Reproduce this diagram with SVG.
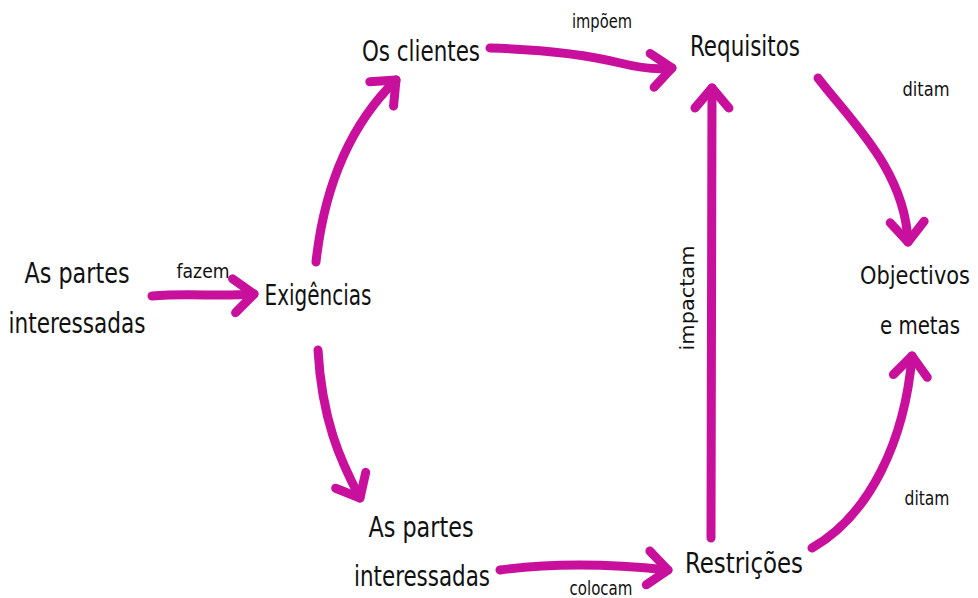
<svg xmlns="http://www.w3.org/2000/svg" width="978" height="598" viewBox="0 0 978 598">
<style>
.n{font-family:"DejaVu Sans Condensed","Liberation Sans",sans-serif;font-size:28px;fill:#111;text-anchor:middle}
.s{font-size:25px}
.l{font-family:"DejaVu Sans Condensed","Liberation Sans",sans-serif;font-size:19px;fill:#111;text-anchor:middle}
.c{fill:none;stroke:#C8109C;stroke-width:9;stroke-linecap:round;stroke-linejoin:round}
</style>
<defs>
<marker id="ah" markerUnits="userSpaceOnUse" viewBox="-40 -40 80 80" markerWidth="80" markerHeight="80" refX="0" refY="0" orient="auto" overflow="visible">
<path d="M-20,-17 L0,0 L-20,17" fill="none" stroke="#C8109C" stroke-width="9" stroke-linecap="round" stroke-linejoin="round"/>
</marker>
</defs>
<rect width="978" height="598" fill="#fff"/>
<g id="connectors">
<path class="c" marker-end="url(#ah)" d="M152,296 C190,293 220,297 254,294"/>
<path class="c" marker-end="url(#ah)" d="M316,262 C325,180 355,120 396,80"/>
<path class="c" marker-end="url(#ah)" d="M318,350 C322,420 340,460 360,498"/>
<path class="c" marker-end="url(#ah)" d="M490,48 C560,50 600,58 620,63 C640,68 655,70 672,68"/>
<path class="c" marker-end="url(#ah)" d="M500,570 C560,562 620,565 668,570"/>
<path class="c" marker-end="url(#ah)" d="M711,538 L712,88"/>
<path class="c" marker-end="url(#ah)" d="M818,78 C850,120 905,170 908,242"/>
<path class="c" marker-end="url(#ah)" d="M812,548 C870,515 905,440 912,356"/>
<text class="l" x="203" y="278" textLength="53" lengthAdjust="spacingAndGlyphs">fazem</text>
<text class="l" x="602" y="28" textLength="60" lengthAdjust="spacingAndGlyphs">impõem</text>
<text class="l" x="926" y="96" textLength="47" lengthAdjust="spacingAndGlyphs">ditam</text>
<text class="l" x="927" y="505" textLength="45" lengthAdjust="spacingAndGlyphs">ditam</text>
<text class="l" x="601" y="595" textLength="63" lengthAdjust="spacingAndGlyphs">colocam</text>
<text class="l" transform="translate(694,298) rotate(-90)" textLength="105" lengthAdjust="spacingAndGlyphs">impactam</text>
</g>
<g id="stakeholders1"><text class="n" x="77" y="283" textLength="105" lengthAdjust="spacingAndGlyphs">As partes</text><text class="n" x="77" y="333" textLength="137" lengthAdjust="spacingAndGlyphs">interessadas</text></g>
<g id="exigencias"><text class="n" x="318" y="305" textLength="107" lengthAdjust="spacingAndGlyphs">Exigências</text></g>
<g id="clientes"><text class="n" x="421" y="61" textLength="118" lengthAdjust="spacingAndGlyphs">Os clientes</text></g>
<g id="requisitos"><text class="n" x="745" y="56" textLength="110" lengthAdjust="spacingAndGlyphs">Requisitos</text></g>
<g id="objectivos"><text class="n s" x="915" y="284" textLength="110" lengthAdjust="spacingAndGlyphs">Objectivos</text><text class="n s" x="920" y="334" textLength="80" lengthAdjust="spacingAndGlyphs">e metas</text></g>
<g id="stakeholders2"><text class="n" x="421" y="537" textLength="105" lengthAdjust="spacingAndGlyphs">As partes</text><text class="n" x="422" y="586" textLength="136" lengthAdjust="spacingAndGlyphs">interessadas</text></g>
<g id="restricoes"><text class="n" x="744" y="573" textLength="118" lengthAdjust="spacingAndGlyphs">Restrições</text></g>
</svg>
